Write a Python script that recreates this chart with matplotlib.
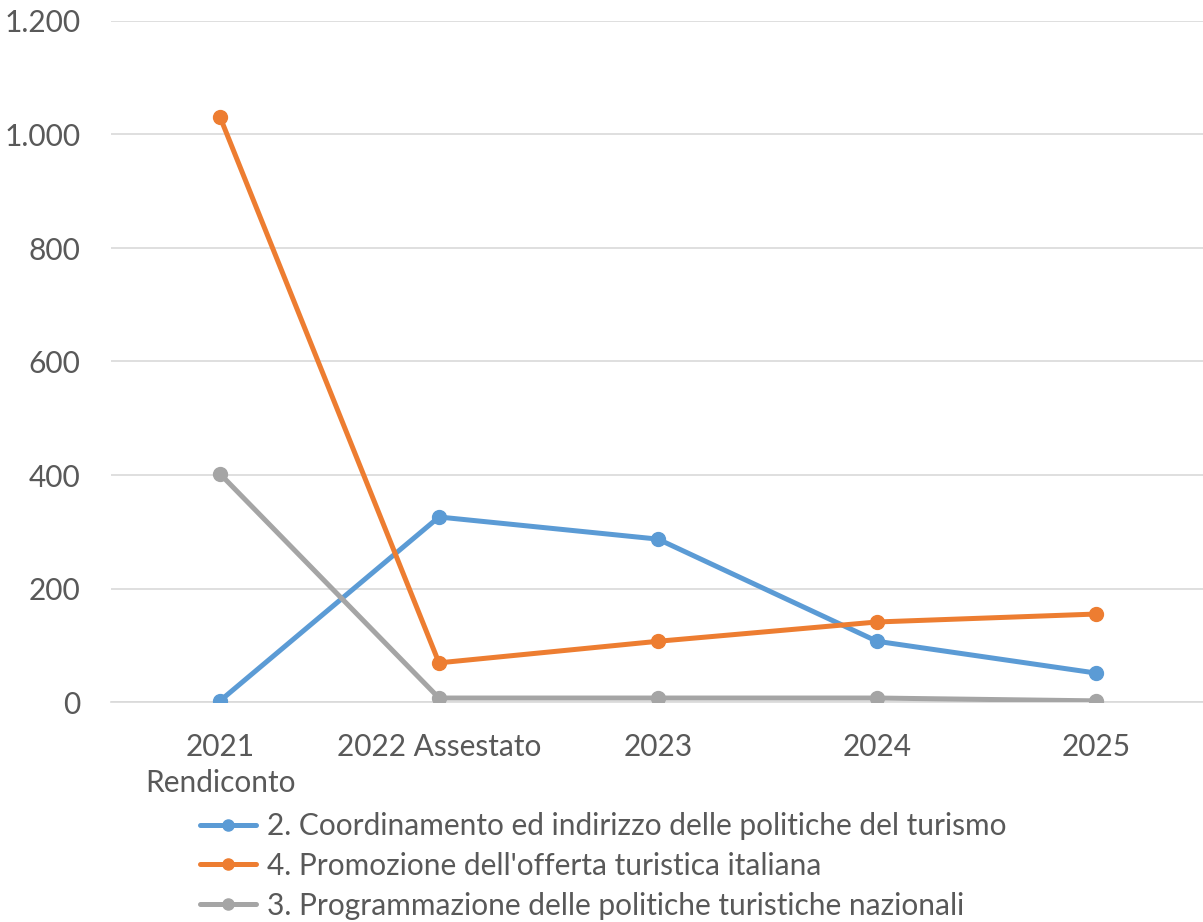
import matplotlib
matplotlib.use("Agg")
import matplotlib.pyplot as plt
from matplotlib.ticker import FuncFormatter

categories = ["2021\nRendiconto", "2022 Assestato", "2023", "2024", "2025"]
series_names = [
    "2. Coordinamento ed indirizzo delle politiche del turismo",
    "4. Promozione dell'offerta turistica italiana",
    "3. Programmazione delle politiche turistiche nazionali",
]
coordinamento = [2, 326, 287, 107, 51]
promozione = [1031, 69, 107, 141, 155]
programmazione = [402, 7, 7, 7, 2]
colors = ["#5B9BD5", "#ED7D31", "#A5A5A5"]
yticks = [0, 200, 400, 600, 800, 1000, 1200]

plt.rcParams['font.family'] = ['Lato', 'DejaVu Sans']
txt = "#595959"
fs = 21.5

fig = plt.figure(figsize=(12.03, 9.22), dpi=100)
ax = fig.add_axes([110.5 / 1203, 1 - 702 / 922, 1095 / 1203, 681 / 922])

x = list(range(len(categories)))
handles = []
for vals, name, c in zip([coordinamento, promozione, programmazione], series_names, colors):
    h, = ax.plot(x, vals, color=c, lw=3.6, marker='o', ms=10, label=name,
                 solid_capstyle='round', zorder=3)
    handles.append(h)

ax.set_xlim(-0.5, 4.5)
ax.set_ylim(0, 1200)
ax.set_yticks(yticks)
ax.yaxis.set_major_formatter(FuncFormatter(lambda v, p: f"{int(v):,}".replace(",", ".")))
ax.set_xticks(x)
ax.set_xticklabels(categories)
ax.grid(axis='y', color='#D9D9D9', lw=1.2)
ax.set_axisbelow(True)
for s in ['top', 'right', 'left']:
    ax.spines[s].set_visible(False)
ax.spines['bottom'].set_color('#D9D9D9')
ax.spines['bottom'].set_linewidth(1.2)
ax.tick_params(axis='both', length=0, labelsize=fs, colors=txt)
ax.tick_params(axis='x', pad=22)
ax.tick_params(axis='y', pad=21.5)
for lab in ax.get_xticklabels():
    lab.set_linespacing(1.35)

leg = fig.legend(handles=handles, loc='upper left', bbox_to_anchor=(200 / 1203, 1 - 812 / 922),
                 frameon=False, fontsize=fs, labelcolor=txt, handlelength=1.87,
                 handletextpad=0.37, labelspacing=0.40, borderpad=0, borderaxespad=0)
for lh in leg.legend_handles:
    lh.set_markersize(8)

fig.savefig("out.png", dpi=100)
